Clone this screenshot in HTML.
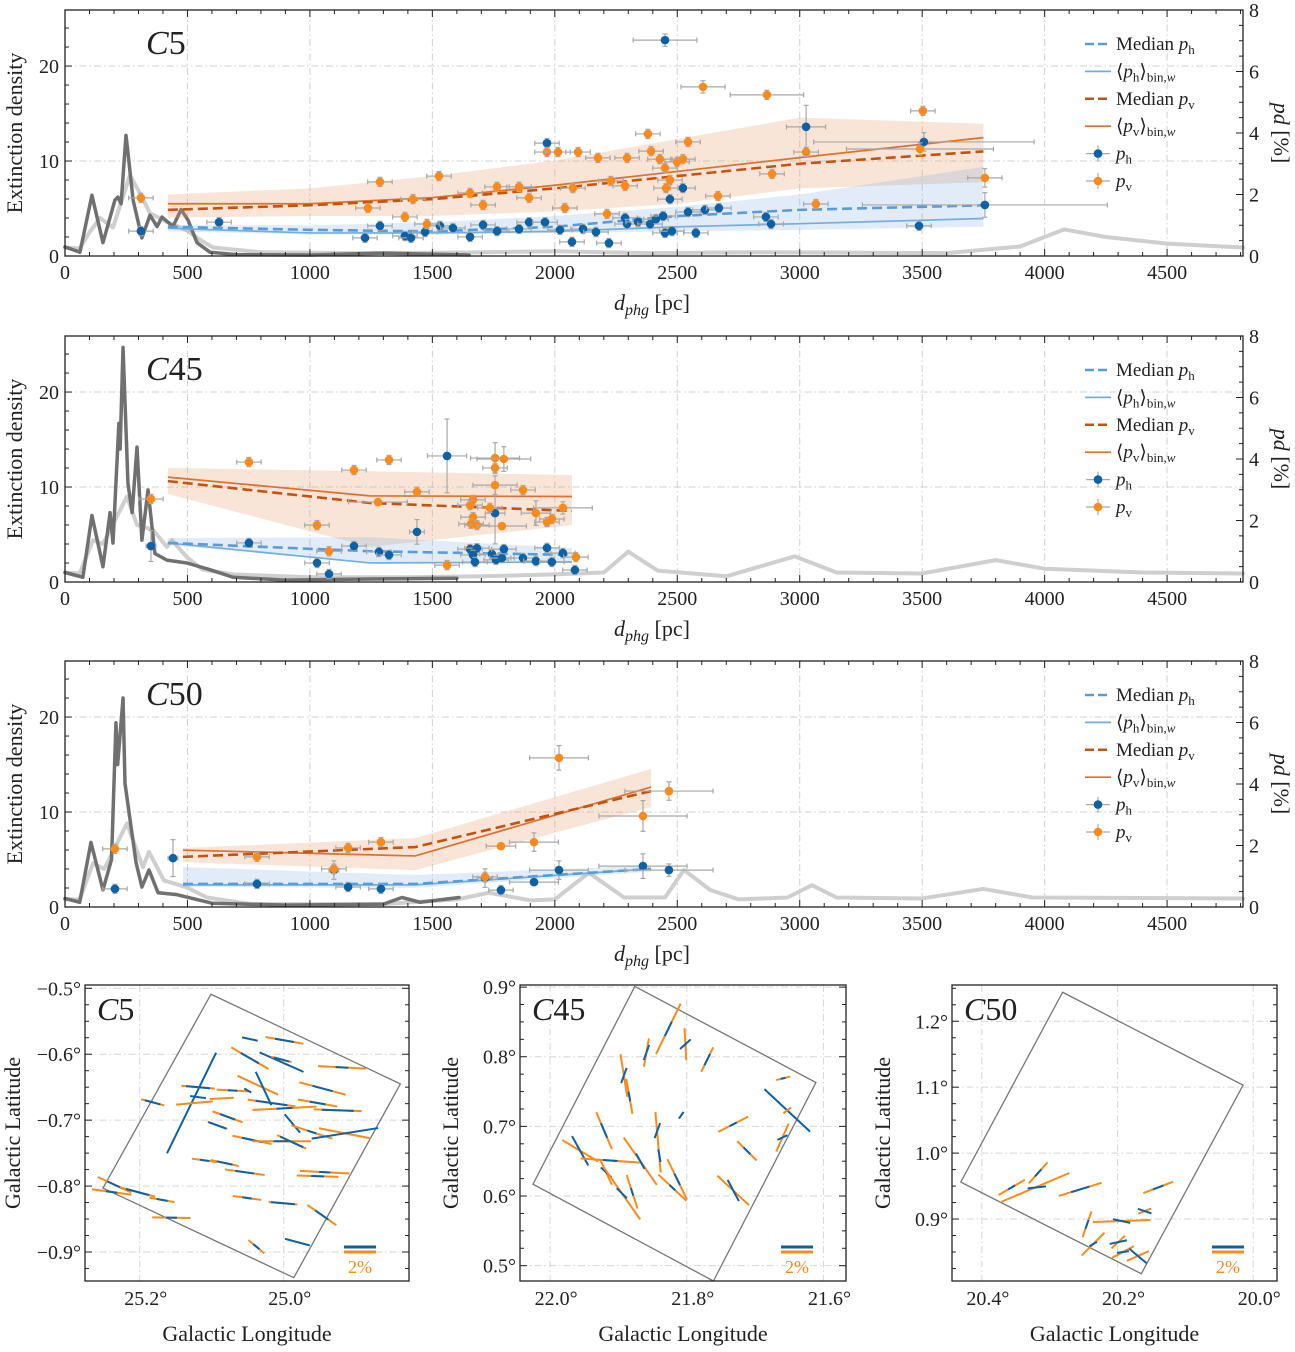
<!DOCTYPE html>
<html><head><meta charset="utf-8"><style>
html,body{margin:0;padding:0;background:#fff}
svg{display:block;font-family:"Liberation Serif",serif}
</style></head><body>
<svg id="fig" width="1295" height="1352" viewBox="0 0 1295 1352" xmlns="http://www.w3.org/2000/svg"></svg>
<script>
// ---------- Panel C5 data ----------
const c5PvPts=[[310,1.89],[1286,2.41],[1237,1.56],[1388,1.27],[1421,1.85],[1478,1.04],[1527,2.60],[1654,2.05],[1707,1.66],[1764,2.25],[1854,2.25],[1895,1.89],[1968,3.38],[2013,3.38],[2041,1.56],[2074,2.21],[2095,3.38],[2176,3.19],[2213,1.37],[2229,2.44],[2287,2.28],[2295,3.19],[2380,3.97],[2393,3.41],[2429,3.15],[2450,2.86],[2454,2.21],[2470,2.47],[2499,3.06],[2523,3.15],[2544,3.71],[2605,5.50,90,0.2],[2666,1.95],[2866,5.24,150,0.15],[2887,2.67],[3026,3.38],[3066,1.69],[3503,4.72],[3491,3.48,300,0.2],[3756,2.54,70,0.3]];
const c5PhPts=[[310,0.81],[629,1.10],[1225,0.59],[1286,0.98],[1388,0.65],[1413,0.59],[1470,0.78],[1531,0.98],[1584,0.91],[1654,0.62],[1707,1.01],[1764,0.81],[1854,0.88],[1895,1.10],[1960,1.10],[1968,3.67],[2021,0.85],[2070,0.46],[2115,0.88],[2168,0.78],[2221,0.42],[2287,1.24],[2295,1.04],[2340,1.11],[2389,1.04],[2413,1.20],[2442,1.30],[2450,7.02,130,0.2],[2450,0.75],[2470,1.85],[2478,0.81],[2523,2.21],[2544,1.43],[2576,0.75],[2613,1.50],[2670,1.56],[2862,1.27],[2883,1.04],[3026,4.20,80,0.7],[3487,0.98],[3507,3.71,450,0.3],[3756,1.66,500,0.4]];
const c5LineD=[420,1000,1500,2000,2500,3000,3750];
const c5MedPh=[0.95,0.85,0.8,0.95,1.3,1.5,1.65];
const c5BinPh=[0.9,0.75,0.75,0.8,0.95,1.05,1.22];
const c5MedPv=[1.5,1.65,1.85,2.2,2.6,3.0,3.4];
const c5BinPv=[1.7,1.7,1.9,2.3,2.75,3.2,3.85];
const c5PvHi=[2.0,2.2,2.6,3.1,3.8,4.5,4.3];
const c5PvLo=[1.25,1.3,1.3,1.45,1.7,2.2,2.4];
const c5PhHi=[1.0,1.0,1.1,1.3,1.6,2.0,2.9];
const c5PhLo=[0.8,0.7,0.7,0.75,0.8,0.85,0.95];
const c5Light=[[0,0.9],[60,0.8],[100,2.5],[143,4.0],[196,3.0],[265,8.5],[306,6.6],[347,4.5],[416,3.6],[498,2.7],[551,1.7],[604,0.9],[800,0.4],[1200,0.3],[1600,0.35],[2000,0.5],[2400,0.3],[2800,0.4],[3200,0.35],[3600,0.3],[3900,1.0],[4080,2.8],[4250,2.0],[4500,1.3],[4810,0.9]];
const c5Dark=[[0,0.95],[61,0.4],[110,6.4],[155,1.4],[204,5.9],[216,6.2],[229,5.5],[249,12.7],[257,10.9],[278,5.9],[314,1.9],[347,4.3],[376,3.1],[396,4.1],[441,3.1],[474,4.9],[502,3.8],[539,1.4],[592,0.4],[700,0.15],[1000,0.1],[1300,0.3],[1650,0.1]];
// ---------- Panel C45 data ----------
const c45PvPts=[[351,2.70],[751,3.90],[1180,3.64],[1323,3.97],[1029,1.85],[1078,1.0],[1278,2.60,120,0.1],[1437,2.93],[1560,0.55],[1756,4.03,100,0.5],[1792,4.0,110,0.4],[1756,3.71],[1756,3.15,90,0.3],[1870,2.99],[1666,2.67],[1654,2.5],[1735,2.41],[1666,2.11],[1658,1.89],[1682,1.85],[1784,1.82,100,0.1],[1923,2.24,60,0.4],[1968,1.95],[1988,2.05],[2033,2.41,120,0.2],[2086,0.81]];
const c45PhPts=[[351,1.17,20,0.5],[751,1.27],[1560,4.10,80,1.2],[1437,1.63,30,0.4],[1180,1.17],[1282,0.98],[1323,0.88],[1029,0.62],[1078,0.26],[1756,2.24,40,1.0],[1654,1.07],[1682,1.1],[1666,0.88],[1674,0.65],[1743,0.91],[1760,0.72],[1784,0.78],[1792,1.07],[1870,0.78],[1923,0.68],[1968,1.11],[1988,0.65],[2033,0.94],[2082,0.39]];
const c45LineD=[420,1245,2070];
const c45MedPh=[1.27,1.0,0.88];
const c45BinPh=[1.27,0.62,0.65];
const c45MedPv=[3.28,2.57,2.31];
const c45BinPv=[3.41,2.80,2.78];
const c45PvHi=[3.71,3.6,3.48];
const c45PvLo=[2.86,1.14,1.85];
const c45PhHi=[1.43,1.46,1.1];
const c45PhLo=[1.2,0.62,0.62];
const c45Light=[[0,1.0],[60,0.9],[114,4.4],[155,4.0],[253,9.0],[294,6.0],[359,5.5],[416,3.7],[437,4.4],[498,2.6],[563,1.3],[686,0.8],[1000,0.5],[1400,0.5],[1700,0.6],[2000,0.8],[2200,1.0],[2300,3.2],[2420,1.2],[2700,0.6],[2980,2.7],[3150,1.0],[3500,0.9],[3800,2.3],[4000,1.4],[4400,1.0],[4810,0.9]];
const c45Dark=[[0,1.0],[73,0.5],[110,7.0],[155,1.6],[184,7.3],[196,4.1],[220,16.7],[225,14],[237,24.7],[257,10.4],[274,7.3],[294,14.2],[314,4.4],[339,9.7],[367,3.0],[416,2.3],[498,2.0],[592,1.3],[686,0.5],[900,0.2],[1200,0.3],[1600,0.4]];
// ---------- Panel C50 data ----------
const c50PvPts=[[204,1.89],[784,1.63],[1098,1.24],[1156,1.92],[1290,2.11],[1715,0.98],[1780,1.98,60,0.1],[1915,2.11,100,0.3],[2017,4.85,120,0.4],[2360,2.96,180,0.5],[2466,3.77,180,0.3]];
const c50PhPts=[[204,0.59],[441,1.59,20,0.6],[784,0.75],[1098,1.2,20,0.3],[1156,0.65],[1290,0.59],[1715,0.94,30,0.3],[1780,0.55],[1915,0.81,100,0.1],[2017,1.2,120,0.3],[2360,1.33,180,0.4],[2466,1.2,180,0.2]];
const c50LineD=[482,1430,2393];
const c50MedPh=[0.75,0.75,1.24];
const c50BinPh=[0.72,0.72,1.24];
const c50MedPv=[1.63,1.95,3.77];
const c50BinPv=[1.85,1.66,3.9];
const c50PvHi=[1.92,2.24,4.49];
const c50PvLo=[1.46,1.2,3.25];
const c50PhHi=[1.3,1.04,1.35];
const c50PhLo=[0.65,0.62,1.15];
const c50Light=[[0,0.8],[60,0.8],[114,4.6],[160,4.0],[253,8.8],[318,4.2],[343,5.8],[404,2.8],[494,2.1],[580,1.0],[760,0.3],[1300,0.3],[1600,0.8],[1731,1.5],[1900,0.7],[2000,0.8],[2139,3.6],[2283,1.0],[2450,1.0],[2527,3.9],[2634,1.8],[2750,0.8],[2950,1.0],[3050,2.3],[3150,1.0],[3500,0.9],[3750,1.9],[3950,1.0],[4810,0.9]];
const c50Dark=[[0,0.9],[60,0.5],[106,6.8],[155,1.8],[190,5],[208,19.4],[215,15],[237,22],[245,13],[290,4.7],[314,2.1],[343,3.9],[380,1.5],[457,1.3],[600,0.4],[900,0.2],[1300,0.3],[1376,1.0],[1450,0.5],[1609,1.0]];
const xTicks=[0,500,1000,1500,2000,2500,3000,3500,4000,4500];
const leftTicks=[0,10,20];
const rightTicks=[0,2,4,6,8];
// ---------- Map data: [lon, lat, angle(deg), pv %, ph %] ----------
const mapC5Segs=[[25.047,-0.577,12,0,1.0],[24.999,-0.579,10,2.4,1.2],[25.047,-0.606,30,2.7,1.3],[25.003,-0.612,24,1.0,3.0],[25.003,-0.608,15,1.3,1.0],[24.919,-0.620,3,3.0,0.8],[25.128,-0.674,-64,0,7.0],[25.182,-0.673,15,1.5,1.0],[25.119,-0.650,5,2.1,1.5],[25.036,-0.647,25,2.8,0],[25.071,-0.655,3,2.0,0.6],[25.050,-0.655,30,0,0.5],[24.946,-0.652,15,3.0,1.3],[25.124,-0.674,-5,2.3,0],[25.119,-0.665,8,0,1.0],[25.086,-0.667,-3,1.5,0],[25.028,-0.652,65,0,2.3],[25.017,-0.674,8,3.0,2.0],[24.999,-0.682,-3,4.0,1.0],[24.953,-0.674,10,2.5,1.0],[24.925,-0.685,2,3.0,2.0],[25.078,-0.695,20,2.0,1.0],[25.092,-0.708,20,1.3,1.2],[24.988,-0.705,50,0,1.5],[24.961,-0.718,18,2.7,0.6],[24.915,-0.720,11,3.3,0],[24.915,-0.720,-9,0,4.2],[25.044,-0.730,12,2.5,1.3],[25.003,-0.732,0,3.7,1.0],[24.989,-0.733,25,2.0,1.6],[25.110,-0.761,8,1.6,0.6],[25.082,-0.765,12,1.8,1.0],[25.054,-0.779,8,2.5,1.2],[24.943,-0.779,3,3.1,0.7],[24.953,-0.785,2,2.6,0.8],[25.235,-0.798,25,2.3,1.0],[25.203,-0.809,15,2.3,1.5],[25.239,-0.809,8,2.5,0.7],[25.169,-0.821,10,1.6,0.7],[25.051,-0.818,8,1.8,0.6],[25.001,-0.826,5,1.8,1.5],[24.947,-0.844,35,2.2,1.0],[25.156,-0.848,1,2.4,0.7],[25.038,-0.892,40,1.3,0.5],[24.981,-0.885,15,1.6,1.6]];
const mapC5Box=[[25.101,-0.509],[24.838,-0.645],[24.986,-0.939],[25.251,-0.803]];
const mapC45Segs=[[21.827,0.840,-64,3.5,1.0],[21.802,0.818,87,2.0,0],[21.802,0.818,-42,0,0.9],[21.859,0.806,-80,1.8,0],[21.859,0.806,-70,0,1.0],[21.770,0.796,-64,1.7,0.8],[21.892,0.773,81,2.7,0],[21.892,0.773,-70,0,1.0],[21.884,0.743,80,2.2,0.6],[21.659,0.769,-14,0.9,0.3],[21.653,0.723,43,0,3.9],[21.653,0.723,-38,0.6,0],[21.808,0.716,-55,0.5,0.5],[21.732,0.703,-27,2.1,0.5],[21.842,0.677,85,3.8,0],[21.843,0.694,-70,0,1.0],[21.840,0.658,80,0,0.8],[21.921,0.694,67,2.5,1.0],[21.660,0.684,-66,1.9,0],[21.660,0.684,-25,0,0.7],[21.712,0.665,45,1.7,0.6],[21.956,0.665,31,2.6,0],[21.956,0.665,61,0,2.1],[21.912,0.651,4,3.7,0.9],[21.868,0.650,55,3.6,0],[21.868,0.650,61,0,1.1],[21.814,0.624,64,2.8,0.8],[21.821,0.612,43,2.4,0.5],[21.918,0.634,65,1.7,0],[21.918,0.634,43,0,0.9],[21.895,0.604,55,4.0,0],[21.895,0.604,45,0,0.9],[21.880,0.606,72,2.2,0.5],[21.732,0.608,43,2.7,0],[21.732,0.608,62,0,1.5]];
const mapC45Box=[[21.876,0.901],[21.611,0.763],[21.761,0.478],[22.025,0.617]];
const mapC50Segs=[[20.356,0.948,-30,1.9,0.5],[20.317,0.970,-48,1.75,0.6],[20.321,0.948,-23,4.6,0],[20.319,0.948,-6,0,1.15],[20.255,0.945,-17,2.8,1.2],[20.140,0.948,-21,2.0,0.7],[20.245,0.892,-71,1.7,0.6],[20.194,0.897,-2,3.6,0],[20.194,0.897,12,0,1.1],[20.160,0.912,-22,0.85,0],[20.160,0.912,19,0,0.9],[20.236,0.862,-45,2.0,0],[20.236,0.862,-30,0,0.55],[20.199,0.865,-43,1.15,0],[20.199,0.865,-12,0,1.1],[20.192,0.850,-28,1.55,0],[20.192,0.850,-8,0,0.75],[20.170,0.844,-24,1.5,0],[20.170,0.844,40,0,1.4]];
const mapC50Box=[[20.281,1.244],[20.015,1.103],[20.165,0.817],[20.431,0.956]];

const NS="http://www.w3.org/2000/svg";
const svg=document.getElementById('fig');
function el(tag,attrs,parent){const e=document.createElementNS(NS,tag);for(const k in attrs)e.setAttribute(k,attrs[k]);(parent||svg).appendChild(e);return e;}
const BLUE="#0c62a6",ORANGE="#ff8a1c",MEDPV="#c8520a",BINPV="#e0702e",MEDPH="#5a9bd8",BINPH="#72aee0";

function panel(top,label,D){
  const L=65,R=1243,T=top,B=top+246;
  const X=d=>L+d*(R-L)/4810;
  const YL=v=>B-v*(B-T)/25.9;
  const YR=v=>B-v*(B-T)/8;
  const g=el('g',{});
  
  
  // grid
  xTicks.slice(1).forEach(t=>{const l=el('line',{x1:X(t),x2:X(t),y1:T,y2:B,stroke:'#d0d0d0','stroke-width':1,'stroke-dasharray':'7,3,1.5,3'},g);});
  [10,20].forEach(t=>{const l=el('line',{x1:L,x2:R,y1:YL(t),y2:YL(t),stroke:'#d0d0d0','stroke-width':1,'stroke-dasharray':'7,3,1.5,3'},g);});
  // extinction
  const pl=(arr,c,w,name)=>{const p=el('polyline',{points:arr.map(a=>X(a[0])+','+YL(a[1])).join(' '),fill:'none',stroke:c,'stroke-width':w,'stroke-linejoin':'round','stroke-linecap':'round'},g);};
  pl(D.light,'#cfcfcf',4,'extinction-density-total');
  pl(D.dark,'#707070',3.5,'extinction-density-near');
  // bands
  const band=(lo,hi,c,name)=>{const pts=D.ld.map((d,i)=>X(d)+','+YR(hi[i])).concat(D.ld.map((d,i)=>X(d)+','+YR(lo[i])).reverse());const p=el('polygon',{points:pts.join(' '),fill:c},g);};
  band(D.pvLo,D.pvHi,'rgba(228,150,100,0.25)','pv-band');
  band(D.phLo,D.phHi,'rgba(120,170,225,0.22)','ph-band');
  const ln=(v,c,w,dash,name)=>{const p=el('polyline',{points:D.ld.map((d,i)=>X(d)+','+YR(v[i])).join(' '),fill:'none',stroke:c,'stroke-width':w,'stroke-dasharray':dash||'none'},g);};
  ln(D.binPh,BINPH,1.7,null,'ph-bin-line');
  ln(D.medPh,MEDPH,2.6,'10,5','ph-median-line');
  ln(D.binPv,BINPV,1.7,null,'pv-bin-line');
  ln(D.medPv,MEDPV,2.6,'10,5','pv-median-line');
  // points
  const pts=(arr,c,name)=>{arr.forEach(p=>{const xe=p[2]!==undefined?p[2]:50,ye=p[3]!==undefined?p[3]:0.15;const cx=X(p[0]),cy=YR(p[1]);
    const eg=el('g',{stroke:'#a8a8a8','stroke-width':1.2},g);
    el('line',{x1:X(p[0]-xe),x2:X(p[0]+xe),y1:cy,y2:cy},eg);el('line',{x1:cx,x2:cx,y1:YR(p[1]-ye),y2:YR(p[1]+ye)},eg);
    el('line',{x1:X(p[0]-xe),x2:X(p[0]-xe),y1:cy-2.5,y2:cy+2.5},eg);el('line',{x1:X(p[0]+xe),x2:X(p[0]+xe),y1:cy-2.5,y2:cy+2.5},eg);
    el('line',{x1:cx-2.5,x2:cx+2.5,y1:YR(p[1]-ye),y2:YR(p[1]-ye)},eg);el('line',{x1:cx-2.5,x2:cx+2.5,y1:YR(p[1]+ye),y2:YR(p[1]+ye)},eg);
    const c1=el('circle',{cx:cx,cy:cy,r:4.3,fill:c},g);});};
  pts(D.ph,BLUE,'ph-point');
  pts(D.pv,ORANGE,'pv-point');
  // frame + ticks
  const fr=el('rect',{x:L,y:T,width:R-L,height:B-T,fill:'none',stroke:'#222','stroke-width':1.3},g);
  for(let t=0;t<=4800;t+=100){const mj=t%500===0,len=mj?7:4;el('line',{x1:X(t),x2:X(t),y1:B,y2:B-len,stroke:'#222'},g);el('line',{x1:X(t),x2:X(t),y1:T,y2:T+len,stroke:'#222'},g);}
  for(let v=0;v<=24;v+=2){const len=v%10===0?7:4;el('line',{x1:L,x2:L+len,y1:YL(v),y2:YL(v),stroke:'#222'},g);}
  for(let v=0;v<=8;v+=0.5){const len=v%2===0?7:4;el('line',{x1:R,x2:R-len,y1:YR(v),y2:YR(v),stroke:'#222'},g);}
  xTicks.forEach(t=>{const tx=el('text',{x:X(t),y:B+23,'font-size':20,'text-anchor':'middle',fill:'#222'},g);tx.textContent=t;});
  leftTicks.forEach(t=>{const tx=el('text',{x:L-6,y:YL(t)+7,'font-size':20,'text-anchor':'end',fill:'#222'},g);tx.textContent=t;});
  rightTicks.forEach(t=>{const tx=el('text',{x:R+6,y:YR(t)+7,'font-size':20,fill:'#222'},g);tx.textContent=t;});
  // labels
  const yl=el('text',{x:0,y:0,'font-size':22,'text-anchor':'middle',transform:`translate(22,${(T+B)/2}) rotate(-90)`,fill:'#222'},g);yl.textContent='Extinction density';
  const yr=el('text',{x:0,y:0,'font-size':22,'text-anchor':'middle',transform:`translate(1274,${(T+B)/2}) rotate(90)`,fill:'#222'},g);yr.innerHTML='<tspan font-style="italic">pd</tspan> [%]';
  const xl=el('text',{x:652,y:B+54,'font-size':22,'text-anchor':'middle',fill:'#222'},g);xl.innerHTML='<tspan font-style="italic">d</tspan><tspan font-style="italic" font-size="16" dy="5">phg</tspan><tspan dy="-5"> [pc]</tspan>';
  const pt=el('text',{x:146,y:T+44,'font-size':34,fill:'#222'},g);pt.innerHTML='<tspan font-style="italic">C</tspan>'+label.slice(1);
  // legend
  const lg=el('g',{},g);
  const items=[['dash',MEDPH,'Median <tspan font-style="italic">p</tspan><tspan font-size="13" dy="4">h</tspan>'],['line',BINPH,'⟨<tspan font-style="italic">p</tspan><tspan font-size="13" dy="4">h</tspan><tspan dy="-4">⟩</tspan><tspan font-size="13" dy="4">bin,<tspan font-style="italic">w</tspan></tspan>'],['dash',MEDPV,'Median <tspan font-style="italic">p</tspan><tspan font-size="13" dy="4">v</tspan>'],['line',BINPV,'⟨<tspan font-style="italic">p</tspan><tspan font-size="13" dy="4">v</tspan><tspan dy="-4">⟩</tspan><tspan font-size="13" dy="4">bin,<tspan font-style="italic">w</tspan></tspan>'],['pt',BLUE,'<tspan font-style="italic">p</tspan><tspan font-size="13" dy="4">h</tspan>'],['pt',ORANGE,'<tspan font-style="italic">p</tspan><tspan font-size="13" dy="4">v</tspan>']];
  items.forEach((it,i)=>{const y=T+34+i*27.4;const eg=el('g',{},lg);
    if(it[0]==='pt'){el('line',{x1:1086,x2:1110,y1:y,y2:y,stroke:'#aaa','stroke-width':1.2},eg);el('line',{x1:1098,x2:1098,y1:y-8,y2:y+8,stroke:'#aaa','stroke-width':1.2},eg);el('circle',{cx:1098,cy:y,r:4.3,fill:it[1]},eg);}
    else el('line',{x1:1085,x2:1111,y1:y,y2:y,stroke:it[1],'stroke-width':it[0]==='dash'?2.5:1.7,'stroke-dasharray':it[0]==='dash'?'9,4':'none'},eg);
    const t=el('text',{x:1116,y:y+6,'font-size':19,fill:'#222'},eg);t.innerHTML=it[2];});
}
panel(10,'C5',{light:c5Light,dark:c5Dark,ld:c5LineD,medPh:c5MedPh,binPh:c5BinPh,medPv:c5MedPv,binPv:c5BinPv,pvHi:c5PvHi,pvLo:c5PvLo,phHi:c5PhHi,phLo:c5PhLo,pv:c5PvPts,ph:c5PhPts});
panel(336,'C45',{light:c45Light,dark:c45Dark,ld:c45LineD,medPh:c45MedPh,binPh:c45BinPh,medPv:c45MedPv,binPv:c45BinPv,pvHi:c45PvHi,pvLo:c45PvLo,phHi:c45PhHi,phLo:c45PhLo,pv:c45PvPts,ph:c45PhPts});
panel(661,'C50',{light:c50Light,dark:c50Dark,ld:c50LineD,medPh:c50MedPh,binPh:c50BinPh,medPv:c50MedPv,binPv:c50BinPv,pvHi:c50PvHi,pvLo:c50PvLo,phHi:c50PhHi,phLo:c50PhLo,pv:c50PvPts,ph:c50PhPts});

function fmt(v,d){return (v<0?'−':'')+Math.abs(v).toFixed(d)+'°';}
function map(cfg){
  const {L,R,lonL,lonR,latT,latB,label,segs,box,xt,yt,yd,titleX}=cfg;const T=985,B=1281;
  const X=l=>L+(lonL-l)*(R-L)/(lonL-lonR);
  const Y=b=>T+(latT-b)*(B-T)/(latT-latB);
  const g=el('g',{});
  xt.forEach(t=>{el('line',{x1:X(t),x2:X(t),y1:T,y2:B,stroke:'#d6d6d6','stroke-dasharray':'7,3,1.5,3'},g);});
  yt.forEach(t=>{el('line',{x1:L,x2:R,y1:Y(t),y2:Y(t),stroke:'#d6d6d6','stroke-dasharray':'7,3,1.5,3'},g);});
  const bx=el('polygon',{points:box.map(p=>X(p[0])+','+Y(p[1])).join(' '),fill:'none',stroke:'#777','stroke-width':1.3},g);
  segs.forEach(s=>{const cx=X(s[0]),cy=Y(s[1]),a=s[2]*Math.PI/180,ca=Math.cos(a),sa=Math.sin(a);
    if(s[3]>0){const h=s[3]*8;const l=el('line',{x1:cx-h*ca,y1:cy-h*sa,x2:cx+h*ca,y2:cy+h*sa,stroke:ORANGE,'stroke-width':2},g);}
    if(s[4]>0){const h=s[4]*8;const l=el('line',{x1:cx-h*ca,y1:cy-h*sa,x2:cx+h*ca,y2:cy+h*sa,stroke:BLUE,'stroke-width':2},g);}});
  const fr=el('rect',{x:L,y:T,width:R-L,height:B-T,fill:'none',stroke:'#222','stroke-width':1.3},g);
  const step=(xt[1]-xt[0])/4;
  for(let t=xt[0]-8*step;t<=xt[xt.length-1]+8*step;t+=step*Math.sign(1)){if(Math.min(lonL,lonR)<=t&&t<=Math.max(lonL,lonR)){const mj=xt.some(v=>Math.abs(v-t)<1e-6);const len=mj?7:4;el('line',{x1:X(t),x2:X(t),y1:B,y2:B-len,stroke:'#222'},g);el('line',{x1:X(t),x2:X(t),y1:T,y2:T+len,stroke:'#222'},g);}}
  const ys=(yt[1]-yt[0])/4;
  for(let k=-10;k<=30;k++){const t=yt[0]+k*ys;if(t<=latT&&t>=latB){const mj=Math.abs(k%4)===0;const len=mj?7:4;el('line',{x1:L,x2:L+len,y1:Y(t),y2:Y(t),stroke:'#222'},g);el('line',{x1:R,x2:R-len,y1:Y(t),y2:Y(t),stroke:'#222'},g);}}
  xt.forEach(t=>{const tx=el('text',{x:X(t)+6,y:B+24,'font-size':20,'text-anchor':'middle',fill:'#222'},g);tx.textContent=fmt(t,1);});
  yt.forEach(t=>{const tx=el('text',{x:L-4,y:Y(t)+7,'font-size':20,'text-anchor':'end',fill:'#222'},g);tx.textContent=fmt(t,yd);});
  const ttl=el('text',{x:L+12,y:T+35,'font-size':32,fill:'#222'},g);ttl.innerHTML='<tspan font-style="italic">C</tspan>'+label.slice(1);
  const xl=el('text',{x:(L+R)/2,y:1341,'font-size':22,'text-anchor':'middle',fill:'#222'},g);xl.textContent='Galactic Longitude';
  const yl=el('text',{x:0,y:0,'font-size':22,'text-anchor':'middle',transform:`translate(${titleX},${(T+B)/2}) rotate(-90)`,fill:'#222'},g);yl.textContent='Galactic Latitude';
  const sb=el('g',{},g);
  el('line',{x1:R-65,x2:R-33,y1:1247,y2:1247,stroke:BLUE,'stroke-width':3},sb);el('line',{x1:R-65,x2:R-33,y1:1252,y2:1252,stroke:ORANGE,'stroke-width':3},sb);
  const st=el('text',{x:R-49,y:1273,'font-size':18,'text-anchor':'middle',fill:ORANGE},sb);st.textContent='2%';
}
map({L:85,R:409,lonL:25.276,lonR:24.826,latT:-0.495,latB:-0.944,label:'C5',segs:mapC5Segs,box:mapC5Box,xt:[25.2,25.0],yt:[-0.5,-0.6,-0.7,-0.8,-0.9],yd:1,titleX:20});
map({L:520,R:846,lonL:22.044,lonR:21.567,latT:0.903,latB:0.478,label:'C45',segs:mapC45Segs,box:mapC45Box,xt:[22.0,21.8,21.6],yt:[0.9,0.8,0.7,0.6,0.5],yd:1,titleX:458});
map({L:952,R:1277,lonL:20.444,lonR:19.965,latT:1.255,latB:0.806,label:'C50',segs:mapC50Segs,box:mapC50Box,xt:[20.4,20.2,20.0],yt:[1.2,1.1,1.0,0.9],yd:1,titleX:890});
</script>
</body></html>
